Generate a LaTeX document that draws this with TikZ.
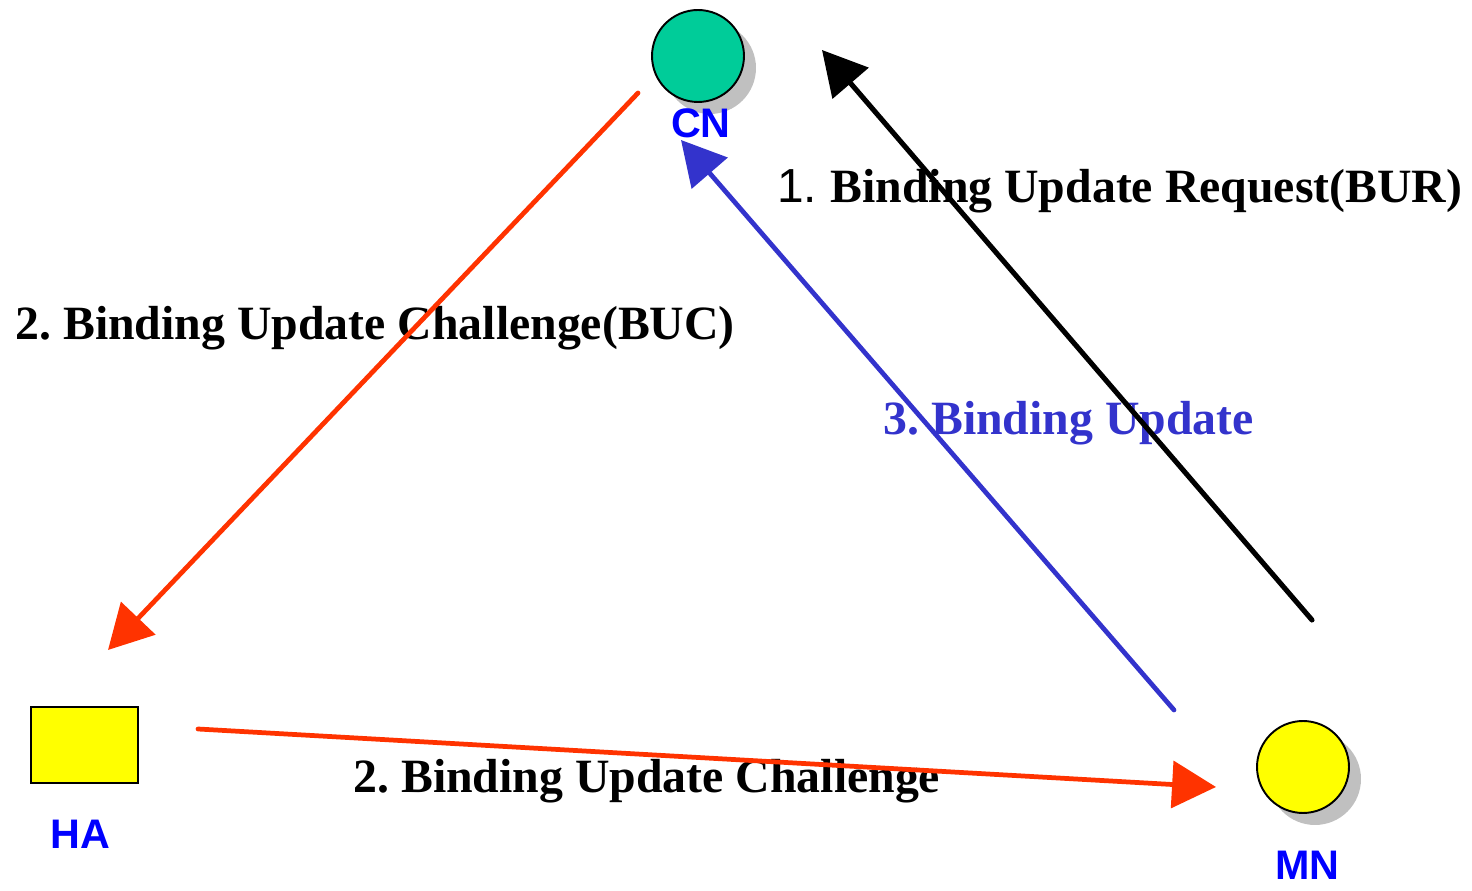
\documentclass[tikz,border=0pt]{standalone}
\usepackage{fontspec}
\setmainfont{Liberation Serif}
\setsansfont{Liberation Sans}
\usetikzlibrary{arrows.meta,shadows}
\frenchspacing
\definecolor{cngreen}{HTML}{00CC99}
\definecolor{hayellow}{HTML}{FFFF00}
\definecolor{arrred}{HTML}{FF3300}
\definecolor{arrblue}{HTML}{3333CC}
\definecolor{lblblue}{HTML}{0000FF}
\definecolor{shadowgray}{HTML}{C0C0C0}
\tikzset{
  host/.style={circle, draw=black, line width=1.1pt, minimum size=1.84cm, inner sep=0pt,
    drop shadow={shadow xshift=0.24cm, shadow yshift=-0.24cm, fill=shadowgray, opacity=1}},
  hostlbl/.style={anchor=base, inner sep=0pt, text=lblblue, font=\sffamily\bfseries\fontsize{23.5}{23.5}\selectfont},
  msglbl/.style={anchor=base west, inner sep=0pt, font=\bfseries\fontsize{27.2}{27.2}\selectfont},
  msg/.style={line width=2.7pt, line cap=round, -{Triangle[length=25pt, width=26.6pt]}},
}
\begin{document}
\begin{tikzpicture}[x=0.02cm, y=-0.02cm]
\useasboundingbox (0,0) rectangle (1472,891);
% hosts
\node[host, fill=cngreen] (cn) at (698,56) {};
\node[host, fill=hayellow] (mn) at (1303,767) {};
\node[draw=black, line width=1.1pt, fill=hayellow, minimum width=2.14cm, minimum height=1.52cm, inner sep=0pt] (ha) at (84.5,745) {};
% host labels
\node[hostlbl] (cnl) at (701,138) {CN};
\node[hostlbl] (hal) at (80.5,849) {HA};
\node[hostlbl] (mnl) at (1307.5,880) {MN};
% message labels
\node[msglbl] (l1) at (777,203) {{\mdseries\sffamily 1. }Binding Update Request(BUR)};
\node[msglbl] (l2) at (15,340) {2. Binding Update Challenge(BUC)};
\node[msglbl, text=arrblue] (l3) at (883,435) {3. Binding Update};
\node[msglbl] (l4) at (353,793) {2. Binding Update Challenge};
% connector end points
\coordinate (bs) at (1312,620);
\coordinate (be) at (822,50);
\coordinate (us) at (1174,710);
\coordinate (ue) at (681,140);
\coordinate (r1s) at (638,93);
\coordinate (r1e) at (108,650);
\coordinate (r2s) at (198,729);
\coordinate (r2e) at (1216,787);
% connectors
\draw[msg, draw=arrred, fill=arrred] (r1s) -- (r1e);
\draw[msg, draw=arrred, fill=arrred] (r2s) -- (r2e);
\draw[msg, draw=arrblue, fill=arrblue] (us) -- (ue);
\draw[msg, draw=black, fill=black, line width=2.9pt] (bs) -- (be);
\end{tikzpicture}
\end{document}
